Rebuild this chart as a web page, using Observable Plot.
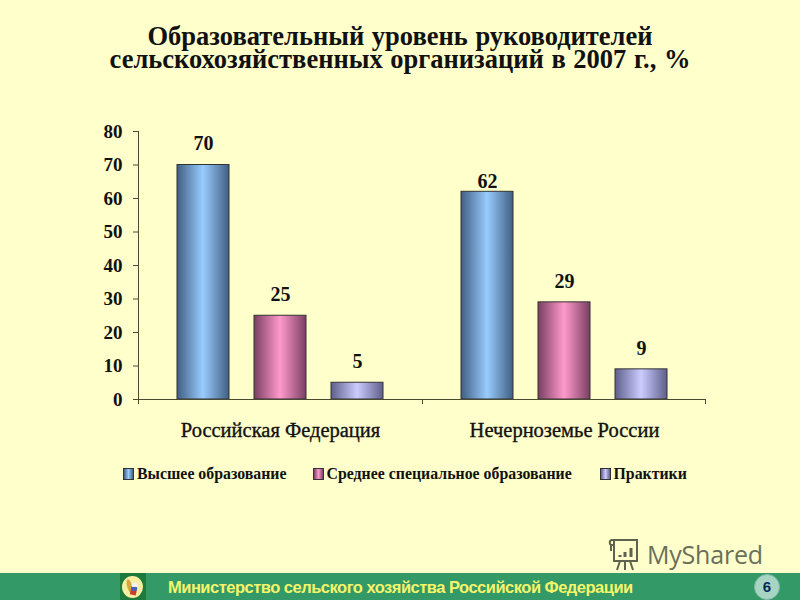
<!DOCTYPE html>
<html lang="ru">
<head>
<meta charset="utf-8">
<script src="https://cdn.jsdelivr.net/npm/d3@7"></script>
<script src="https://cdn.jsdelivr.net/npm/@observablehq/plot@0.6"></script>
<style>
  html, body { margin: 0; padding: 0; width: 800px; height: 600px; overflow: hidden; background: #FFFFCC; }
  #title { position: absolute; left: 0; top: 25px; width: 800px; text-align: center; font: bold 26.5px/23px "Liberation Serif", serif; word-spacing: 1px; color: #111; }
  #chart { position: absolute; left: 0; top: 100px; }
  #chart svg { background: transparent; overflow: visible; }
  #chart g[aria-label="fx-axis tick label"] text { stroke: #111; stroke-width: 0.35; }
  #legend { position: absolute; left: 0; top: 464px; width: 800px; height: 20px; font: bold 15.85px/20px "Liberation Serif", serif; color: #111; }
  #legend span { position: absolute; white-space: nowrap; }
  #legend i { position: absolute; top: 4px; width: 9px; height: 10px; border: 1px solid #333; box-sizing: content-box; }
  #footer { position: absolute; left: 0; top: 573px; width: 800px; height: 27px; background: #339966; }
  #ftext { position: absolute; left: 168px; top: 4px; font: bold 16.5px/20px "Liberation Sans", sans-serif; color: #F4F56A; white-space: nowrap; letter-spacing: -0.5px; }
  #logo { position: absolute; left: 120px; top: 0; width: 26px; height: 27px; background: #1c7a3c; }
  #logo b { position: absolute; left: 2px; top: 3px; width: 21px; height: 22px; border-radius: 50%; background: #f6eea0; overflow: hidden; }
  #logo u { position: absolute; left: 9px; top: 7px; width: 6px; height: 12px; background: linear-gradient(180deg, #f4f4f4 0 33%, #4a5fb0 33% 66%, #d23a2a 66%); transform: rotate(12deg); }
  #logo s { position: absolute; left: 5px; top: 3px; width: 5px; height: 14px; border-radius: 50%; background: #d9a53a; transform: rotate(-14deg); }
  #page { position: absolute; left: 754px; top: 1px; width: 26px; height: 26px; border-radius: 50%; background: #a8d4c4; border: 1px solid #7fb8a5; box-sizing: border-box; text-align: center; font: bold 15px/24px "Liberation Sans", sans-serif; color: #0b2a5c; }
  #mark { position: absolute; left: 608px; top: 537px; font: 25px/34px "Open Sans", sans-serif; color: #6b6f5a; }
  #mark span { position: absolute; left: 39px; top: 0; letter-spacing: -0.2px; white-space: nowrap; }
</style>
</head>
<body>
<div id="title">Образовательный уровень руководителей<br>сельскохозяйственных организаций в 2007 г., %</div>
<div id="chart"></div>
<div id="legend"></div>
<div id="mark">
  <svg width="34" height="36" viewBox="0 0 34 36" fill="none" stroke="#5f634e" stroke-width="2">
    <path d="M4 3h25v4M6 3v21h23V7M4 3c-3 0-3 5 0 5h2M3 8v6M12 24l-3 9M22 24l3 9M17 24v9"/>
    <path d="M12 20v-2M17 20v-5M23 20v-9" stroke-width="3"/>
  </svg>
  <span>MyShared</span>
</div>
<div id="footer">
  <div id="logo"><b><s></s><u></u></b></div>
  <div id="ftext">Министерство сельского хозяйства Российской Федерации</div>
  <div id="page">6</div>
</div>
<script>
const regions = ["Российская Федерация", "Нечерноземье России"];
const series = ["Высшее образование", "Среднее специальное образование", "Практики"];
const valuesRF = [70, 25, 5];
const valuesNCh = [62, 29, 9];
const yTicks = [0, 10, 20, 30, 40, 50, 60, 70, 80];
const edgeColors = ["#3f5f82", "#7a3f62", "#5f5f8c"];
const midColors = ["#99ccff", "#ff99cc", "#ccccff"];
const legendX = [[123, 137], [313, 326.5], [600, 613.5]];

const rows = [
  ...series.map((s, i) => ({region: regions[0], series: s, value: valuesRF[i]})),
  ...series.map((s, i) => ({region: regions[1], series: s, value: valuesNCh[i]}))
];
const gradId = s => `grad${series.indexOf(s)}`;
const axisColor = "#4a4a30";
const toBoundary = 65;
const labelFont = {fontFamily: "Liberation Serif", fontSize: 20, fontWeight: "bold", fill: "#111"};
const closeLabel = d => d.value === 62;

const plot = Plot.plot({
  width: 800,
  height: 340,
  marginTop: 31,
  marginBottom: 41,
  marginLeft: 138,
  marginRight: 94,
  style: {background: "transparent", overflow: "visible"},
  fx: {domain: regions, padding: 0, label: null},
  x: {domain: series, paddingInner: 0.32, paddingOuter: 0.4925, axis: null},
  y: {domain: [0, 80], axis: null, label: null},
  marks: [
    Plot.barY(rows, {
      fx: "region", x: "series", y: "value",
      fill: {value: d => `url(#${gradId(d.series)})`, scale: null},
      stroke: "#333", strokeWidth: 1
    }),
    Plot.ruleY([0], {stroke: axisColor, strokeWidth: 1}),
    Plot.ruleX(regions.slice(0, 1), {fx: d => d, x: () => series[0], y1: 0, y2: 80, dx: -toBoundary, stroke: axisColor}),
    Plot.ruleX(regions, {fx: d => d, x: () => series[0], y1: 0, y2: -1.5, dx: -toBoundary, stroke: axisColor}),
    Plot.ruleX(regions.slice(1), {fx: d => d, x: () => series[2], y1: 0, y2: -1.5, dx: toBoundary - 1, stroke: axisColor}),
    Plot.axisY({
      ticks: yTicks, anchor: "left", tickSize: 5, tickPadding: 11, label: null, stroke: axisColor,
      fontFamily: "Liberation Serif", fontSize: 19, fontWeight: "bold", fill: "#111"
    }),
    Plot.axisFx({
      anchor: "bottom", tickSize: 0, tickPadding: 23, label: null,
      fontFamily: "Liberation Serif", fontSize: 20.5, fontWeight: "normal", fill: "#111"
    }),
    Plot.text(rows.filter(d => !closeLabel(d)), {
      fx: "region", x: "series", y: "value", text: d => String(d.value), dy: -21, ...labelFont
    }),
    Plot.text(rows.filter(closeLabel), {
      fx: "region", x: "series", y: "value", text: d => String(d.value), dy: -10, ...labelFont
    })
  ]
});

const defs = d3.select(plot).insert("defs", ":first-child");
series.forEach((s, i) => {
  const g = defs.append("linearGradient").attr("id", gradId(s)).attr("x1", 0).attr("x2", 1).attr("y1", 0).attr("y2", 0);
  [[0, edgeColors[i]], [0.5, midColors[i]], [1, edgeColors[i]]].forEach(([o, c]) =>
    g.append("stop").attr("offset", o).attr("stop-color", c));
});
document.getElementById("chart").append(plot);

const legend = document.getElementById("legend");
series.forEach((s, i) => {
  const sw = document.createElement("i");
  sw.style.left = legendX[i][0] + "px";
  sw.style.background = `linear-gradient(90deg, ${edgeColors[i]}, ${midColors[i]}, ${edgeColors[i]})`;
  const t = document.createElement("span");
  t.style.left = legendX[i][1] + "px";
  t.textContent = s;
  legend.append(sw, t);
});
</script>
</body>
</html>
